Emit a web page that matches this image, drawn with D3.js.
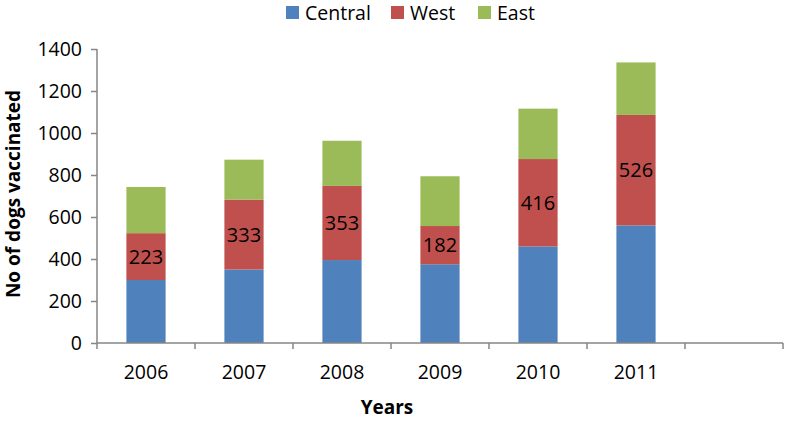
<!DOCTYPE html>
<html>
<head>
<meta charset="utf-8">
<script src="https://cdn.jsdelivr.net/npm/d3@7"></script>
<style>
  body { margin: 0; background: #fff; }
  text { font-family: "Open Sans", sans-serif; }
</style>
</head>
<body>
<svg id="chart"></svg>
<script>
//------------------------------------------------------------
// Data
const years = ["2006", "2007", "2008", "2009", "2010", "2011", ""];
const central = [300, 350, 395, 375, 460, 560];
const west = [223, 333, 353, 182, 416, 526];
const east = [220, 190, 215, 237, 240, 250];
const seriesNames = ["Central", "West", "East"];
const colors = ["#4F81BD", "#C0504D", "#9BBB59"];
const yTicks = [0, 200, 400, 600, 800, 1000, 1200, 1400];

//------------------------------------------------------------
// Chart setup
const W = 787, H = 421;
const margin = { top: 49, right: 4, bottom: 78, left: 97 };
const width = W - margin.left - margin.right;
const height = H - margin.top - margin.bottom;

const svg = d3.select("#chart").attr("width", W).attr("height", H);
const g = svg.append("g").attr("transform", `translate(${margin.left},${margin.top})`);

const x = d3.scaleBand().domain(d3.range(years.length)).range([0, width]).paddingInner(0.6).paddingOuter(0.3);
const y = d3.scaleLinear().domain([0, 1400]).range([height, 0]);

const rows = central.map((c, i) => ({ i, Central: c, West: west[i], East: east[i] }));
const stacked = d3.stack().keys(seriesNames)(rows);

// Bars
g.selectAll("g.series")
  .data(stacked)
  .join("g")
  .attr("fill", (d, i) => colors[i])
  .selectAll("rect")
  .data(d => d)
  .join("rect")
  .attr("x", d => x(d.data.i))
  .attr("y", d => y(d[1]))
  .attr("width", x.bandwidth())
  .attr("height", d => y(d[0]) - y(d[1]));

// West labels
g.selectAll("text.lbl")
  .data(stacked[1])
  .join("text")
  .attr("class", "lbl")
  .attr("x", d => x(d.data.i) + x.bandwidth() / 2)
  .attr("y", d => (y(d[0]) + y(d[1])) / 2)
  .attr("dy", "0.35em")
  .attr("text-anchor", "middle")
  .style("font-size", "20px")
  .text(d => d.data.West);

//------------------------------------------------------------
// Axes
const step = width / years.length;
const axisColor = "#868686";

const yAxis = g.append("g")
  .call(d3.axisLeft(y).tickValues(yTicks).tickFormat(d3.format("d")).tickSize(6).tickPadding(9));
const xAxis = g.append("g")
  .attr("transform", `translate(0,${height})`)
  .call(d3.axisBottom(x).tickFormat(i => years[i]).tickSize(0).tickPadding(22));

[xAxis, yAxis].forEach(a => {
  a.select(".domain").attr("stroke", axisColor).attr("stroke-width", 1.5);
  a.selectAll(".tick line").attr("stroke", axisColor).attr("stroke-width", 1.5);
  a.selectAll(".tick text").style("font-size", "19.5px").attr("fill", "#000");
});
yAxis.select(".domain").attr("d", `M0,0V${height}`);
xAxis.select(".domain").attr("d", `M0,0H${width}`);

// x tick marks between categories
xAxis.selectAll("line.sep")
  .data(d3.range(years.length + 1))
  .join("line")
  .attr("class", "sep")
  .attr("x1", d => d * step).attr("x2", d => d * step)
  .attr("y1", 0).attr("y2", 6)
  .attr("stroke", axisColor).attr("stroke-width", 1.5);

// Axis titles
g.append("text")
  .attr("transform", "rotate(-90)")
  .attr("x", -height / 2 + 2)
  .attr("y", -84)
  .attr("dy", "0.35em")
  .attr("text-anchor", "middle")
  .style("font-size", "19px")
  .style("font-weight", "bold")
  .text("No of dogs vaccinated");

g.append("text")
  .attr("x", 290)
  .attr("y", height + 71)
  .attr("text-anchor", "middle")
  .style("font-size", "19px")
  .style("font-weight", "bold")
  .text("Years");

//------------------------------------------------------------
// Legend
const legendX = [286, 391, 478];
const legend = svg.append("g");
seriesNames.forEach((name, i) => {
  legend.append("rect")
    .attr("x", legendX[i]).attr("y", 6)
    .attr("width", 13).attr("height", 13)
    .attr("fill", colors[i]);
  legend.append("text")
    .attr("x", legendX[i] + 19).attr("y", 20)
    .style("font-size", "19.5px")
    .text(name);
});
</script>
</body>
</html>
